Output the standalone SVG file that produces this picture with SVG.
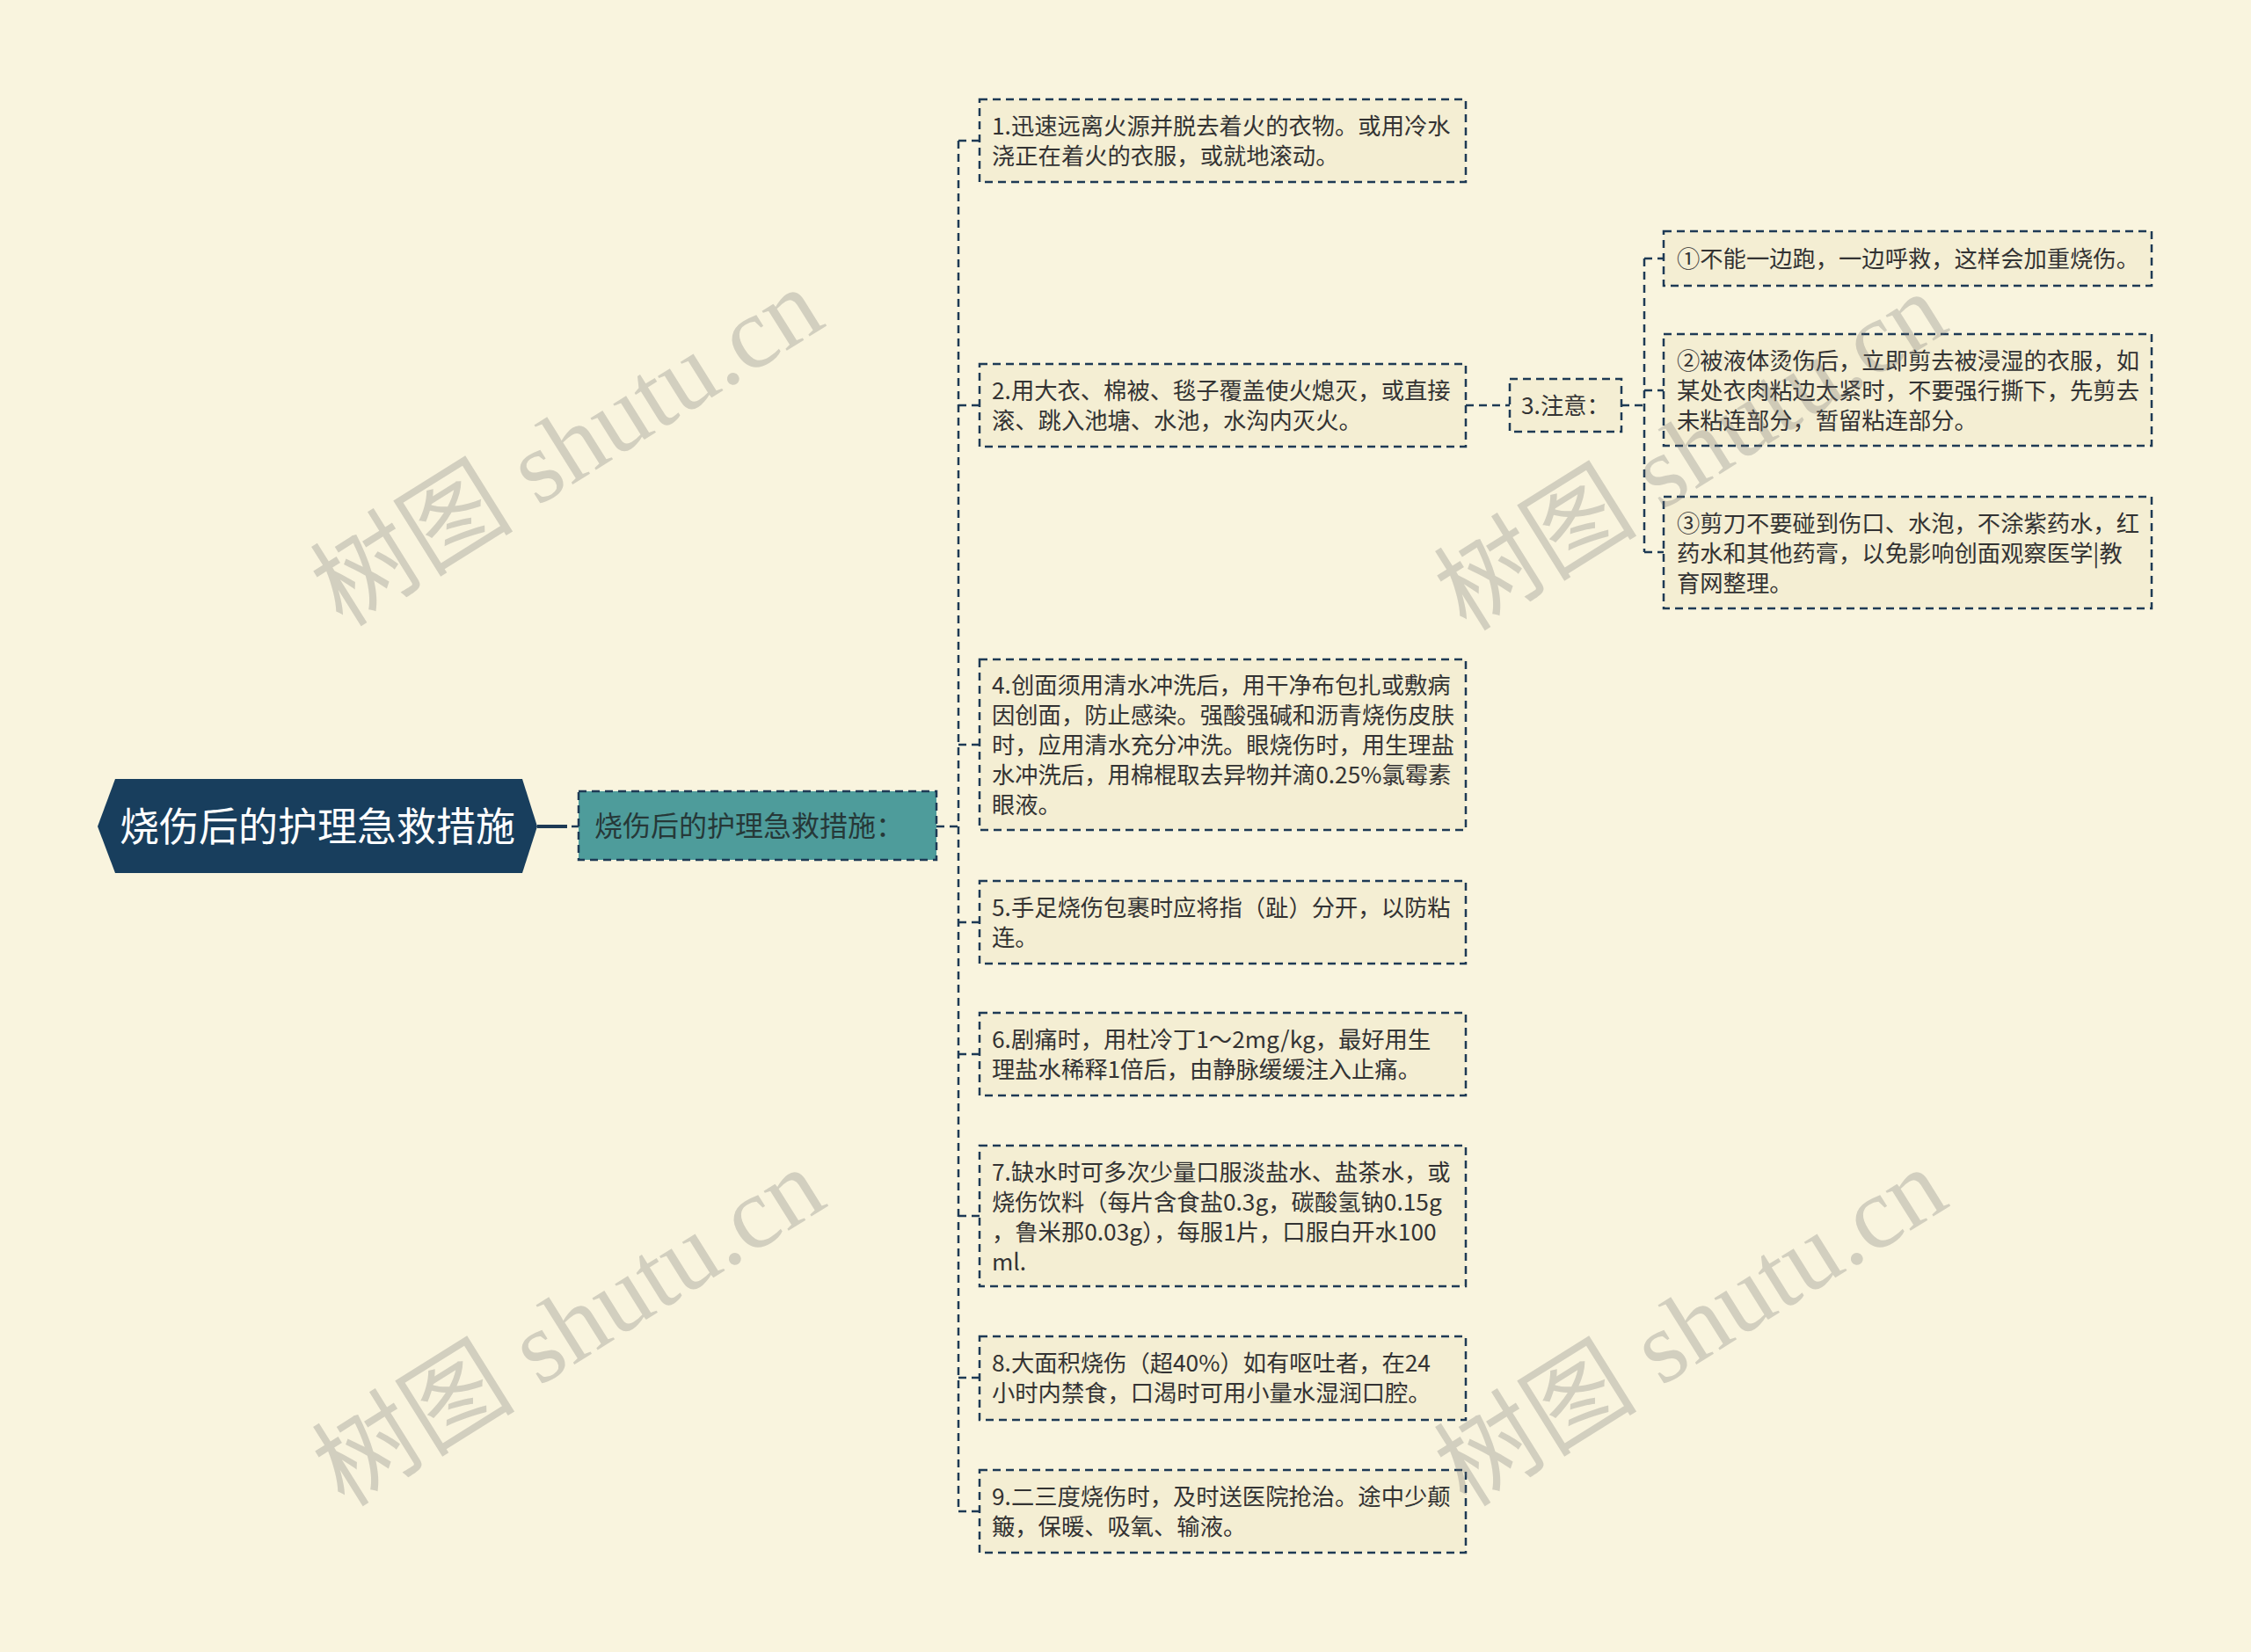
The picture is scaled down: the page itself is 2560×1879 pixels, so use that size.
<svg xmlns="http://www.w3.org/2000/svg" width="2560" height="1879" viewBox="0 0 2560 1879">
<style>
.bg{fill:#f9f4de}
.box{fill:#f4eed3;stroke:#1e3a55;stroke-width:2.5;stroke-dasharray:9 6}
.l1{fill:#4e9c9b;stroke:#1e3a55;stroke-width:2.5;stroke-dasharray:9 6}
.conn{fill:none;stroke:#1e3a55;stroke-width:2.5;stroke-dasharray:9 6}
.t{font-family:"Noto Sans CJK SC","Noto Sans",sans-serif;font-size:26.3px;fill:#333333;dominant-baseline:central}
.l1t{font-family:"Noto Sans CJK SC","Noto Sans",sans-serif;font-size:32px;fill:#263838;dominant-baseline:central;text-anchor:middle}
.rt{font-family:"Noto Sans CJK SC","Noto Sans",sans-serif;font-size:45px;fill:#ffffff;dominant-baseline:central;text-anchor:middle}
.wm{font-family:"Liberation Serif","Noto Sans CJK SC",serif;font-size:116px;fill:#6f6f6f;fill-opacity:0.28;text-anchor:middle;dominant-baseline:central}
</style>
<rect class="bg" x="0" y="0" width="2560" height="1879"/>

<g id="connectors">
  <line x1="611" y1="940" x2="645" y2="940" stroke="#1e3a55" stroke-width="4"/>
  <line x1="650" y1="940" x2="658" y2="940" stroke="#1e3a55" stroke-width="2.5"/>
  <path class="conn" d="M1065,940 H1090"/>
  <path class="conn" d="M1090,160 V1719"/>
  <path class="conn" d="M1090,160 H1114 M1090,461 H1114 M1090,847 H1114 M1090,1049 H1114 M1090,1199 H1114 M1090,1383 H1114 M1090,1567 H1114 M1090,1719 H1114"/>
  <path class="conn" d="M1667,461 H1717"/>
  <path class="conn" d="M1844,461 H1870"/>
  <path class="conn" d="M1870,294 V628"/>
  <path class="conn" d="M1870,294 H1892 M1870,444 H1892 M1870,628 H1892"/>
</g>

<g id="root">
  <polygon points="111,940 131,886 594,886 611,940 594,993 131,993" fill="#183e5d"/>
  <text class="rt" x="361" y="937">烧伤后的护理急救措施</text>
</g>

<g id="l1">
  <rect class="l1" x="658" y="900" width="407" height="78"/>
  <text class="l1t" x="852" y="937">烧伤后的护理急救措施：</text>
</g>

<g id="n1">
  <rect class="box" x="1114" y="113" width="553" height="94"/>
  <text class="t" x="1128" y="141">1.迅速远离火源并脱去着火的衣物。或用冷水</text>
  <text class="t" x="1128" y="175">浇正在着火的衣服，或就地滚动。</text>
</g>

<g id="n2">
  <rect class="box" x="1114" y="414" width="553" height="94"/>
  <text class="t" x="1128" y="442">2.用大衣、棉被、毯子覆盖使火熄灭，或直接</text>
  <text class="t" x="1128" y="476">滚、跳入池塘、水池，水沟内灭火。</text>
</g>

<g id="n3">
  <rect class="box" x="1717" y="431" width="127" height="60"/>
  <text class="t" x="1730" y="459">3.注意：</text>
</g>

<g id="s1">
  <rect class="box" x="1892" y="263" width="555" height="62"/>
  <text class="t" x="1907" y="292">①不能一边跑，一边呼救，这样会加重烧伤。</text>
</g>

<g id="s2">
  <rect class="box" x="1892" y="380" width="555" height="127"/>
  <text class="t" x="1907" y="408">②被液体烫伤后，立即剪去被浸湿的衣服，如</text>
  <text class="t" x="1907" y="442">某处衣肉粘边太紧时，不要强行撕下，先剪去</text>
  <text class="t" x="1907" y="476">未粘连部分，暂留粘连部分。</text>
</g>

<g id="s3">
  <rect class="box" x="1892" y="565" width="555" height="127"/>
  <text class="t" x="1907" y="593">③剪刀不要碰到伤口、水泡，不涂紫药水，红</text>
  <text class="t" x="1907" y="627">药水和其他药膏，以免影响创面观察医学|教</text>
  <text class="t" x="1907" y="661">育网整理。</text>
</g>

<g id="n4">
  <rect class="box" x="1114" y="750" width="553" height="194"/>
  <text class="t" x="1128" y="777">4.创面须用清水冲洗后，用干净布包扎或敷病</text>
  <text class="t" x="1128" y="811">因创面，防止感染。强酸强碱和沥青烧伤皮肤</text>
  <text class="t" x="1128" y="845">时，应用清水充分冲洗。眼烧伤时，用生理盐</text>
  <text class="t" x="1128" y="879">水冲洗后，用棉棍取去异物并滴0.25%氯霉素</text>
  <text class="t" x="1128" y="913">眼液。</text>
</g>

<g id="n5">
  <rect class="box" x="1114" y="1002" width="553" height="94"/>
  <text class="t" x="1128" y="1030">5.手足烧伤包裹时应将指（趾）分开，以防粘</text>
  <text class="t" x="1128" y="1064">连。</text>
</g>

<g id="n6">
  <rect class="box" x="1114" y="1152" width="553" height="94"/>
  <text class="t" x="1128" y="1180">6.剧痛时，用杜冷丁1～2mg/kg，最好用生</text>
  <text class="t" x="1128" y="1214">理盐水稀释1倍后，由静脉缓缓注入止痛。</text>
</g>

<g id="n7">
  <rect class="box" x="1114" y="1303" width="553" height="160"/>
  <text class="t" x="1128" y="1331">7.缺水时可多次少量口服淡盐水、盐茶水，或</text>
  <text class="t" x="1128" y="1365">烧伤饮料（每片含食盐0.3g，碳酸氢钠0.15g</text>
  <text class="t" x="1128" y="1399">，鲁米那0.03g），每服1片，口服白开水100</text>
  <text class="t" x="1128" y="1433">ml.</text>
</g>

<g id="n8">
  <rect class="box" x="1114" y="1520" width="553" height="95"/>
  <text class="t" x="1128" y="1548">8.大面积烧伤（超40%）如有呕吐者，在24</text>
  <text class="t" x="1128" y="1582">小时内禁食，口渴时可用小量水湿润口腔。</text>
</g>

<g id="n9">
  <rect class="box" x="1114" y="1672" width="553" height="94"/>
  <text class="t" x="1128" y="1700">9.二三度烧伤时，及时送医院抢治。途中少颠</text>
  <text class="t" x="1128" y="1734">簸，保暖、吸氧、输液。</text>
</g>

<g id="watermarks">
  <text class="wm" transform="translate(645,509) rotate(-32)">树图 shutu.cn</text>
  <text class="wm" transform="translate(1923,514) rotate(-32)">树图 shutu.cn</text>
  <text class="wm" transform="translate(647,1510) rotate(-32)">树图 shutu.cn</text>
  <text class="wm" transform="translate(1923,1510) rotate(-32)">树图 shutu.cn</text>
</g>
</svg>
